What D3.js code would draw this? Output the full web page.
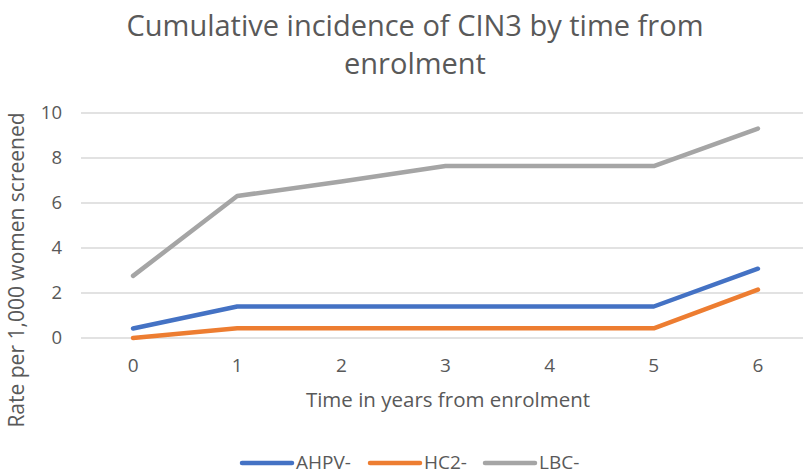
<!DOCTYPE html>
<html>
<head>
<meta charset="utf-8">
<script src="https://cdn.jsdelivr.net/npm/d3@7"></script>
<style>
  body { margin: 0; background: #fff; }
  text { font-family: "Open Sans", sans-serif; fill: #595959; }
</style>
</head>
<body>
<div id="chart"></div>
<script>
// data
const years = [0, 1, 2, 3, 4, 5, 6];
const ahpv = [0.42, 1.40, 1.40, 1.40, 1.40, 1.40, 3.08];
const hc2 = [0.00, 0.43, 0.43, 0.43, 0.43, 0.43, 2.15];
const lbc = [2.76, 6.31, 6.96, 7.64, 7.64, 7.64, 9.31];
const yTicks = [0, 2, 4, 6, 8, 10];
const seriesNames = ["AHPV-", "HC2-", "LBC-"];
const seriesColors = ["#4472C4", "#ED7D31", "#A5A5A5"];

const W = 803, H = 474;
const margin = {top: 113, right: -7, bottom: 136, left: 81};
const width = W - margin.left - margin.right;
const height = H - margin.top - margin.bottom;

const svg = d3.select("#chart")
    .append("svg")
    .attr("width", W)
    .attr("height", H);

// title
svg.append("text")
    .attr("x", 415).attr("y", 36)
    .attr("text-anchor", "middle")
    .style("font-size", "29px")
    .text("Cumulative incidence of CIN3 by time from");
svg.append("text")
    .attr("x", 415).attr("y", 74)
    .attr("text-anchor", "middle")
    .style("font-size", "29px")
    .text("enrolment");

const g = svg.append("g")
    .attr("transform", `translate(${margin.left},${margin.top})`);

const x = d3.scaleBand()
    .domain(years)
    .range([0, width]);

const y = d3.scaleLinear()
    .domain([0, 10])
    .range([height, 0]);

// gridlines
g.append("g")
    .selectAll("line")
    .data(yTicks)
    .enter()
    .append("line")
    .attr("x1", 0).attr("x2", width)
    .attr("y1", d => y(d)).attr("y2", d => y(d))
    .attr("stroke", "#d9d9d9")
    .attr("stroke-width", 1.3);

// y axis labels
const yAxis = g.append("g")
    .call(d3.axisLeft(y).tickValues(yTicks).tickSize(0).tickPadding(19));
yAxis.select(".domain").remove();
yAxis.selectAll("text").style("font-size", "18.5px").attr("fill", "#595959");

// x axis labels
const xAxis = g.append("g")
    .attr("transform", `translate(0,${height})`)
    .call(d3.axisBottom(x).tickSize(0).tickPadding(21));
xAxis.select(".domain").remove();
xAxis.selectAll("text").style("font-size", "19px").attr("fill", "#595959");

// axis titles
svg.append("text")
    .attr("x", 448).attr("y", 407)
    .attr("text-anchor", "middle")
    .style("font-size", "20.5px")
    .text("Time in years from enrolment");
svg.append("text")
    .attr("transform", "translate(24,270) rotate(-90)")
    .attr("text-anchor", "middle")
    .style("font-size", "21px")
    .text("Rate per 1,000 women screened");

// lines
const line = d3.line()
    .x((d, i) => x(years[i]) + x.bandwidth() / 2)
    .y(d => y(d));

[ahpv, hc2, lbc].forEach((s, k) => {
    g.append("path")
        .datum(s)
        .attr("fill", "none")
        .attr("stroke", seriesColors[k])
        .attr("stroke-width", 4.5)
        .attr("stroke-linejoin", "round")
        .attr("stroke-linecap", "round")
        .attr("d", line);
});

// legend
const legendX = [242, 370, 485];
const legend = svg.append("g");
seriesNames.forEach((name, k) => {
    legend.append("line")
        .attr("x1", legendX[k]).attr("x2", legendX[k] + 50)
        .attr("y1", 463).attr("y2", 463)
        .attr("stroke", seriesColors[k])
        .attr("stroke-width", 4.5)
        .attr("stroke-linecap", "round");
    legend.append("text")
        .attr("x", legendX[k] + 54).attr("y", 469)
        .style("font-size", "19px")
        .text(name);
});
</script>
</body>
</html>
